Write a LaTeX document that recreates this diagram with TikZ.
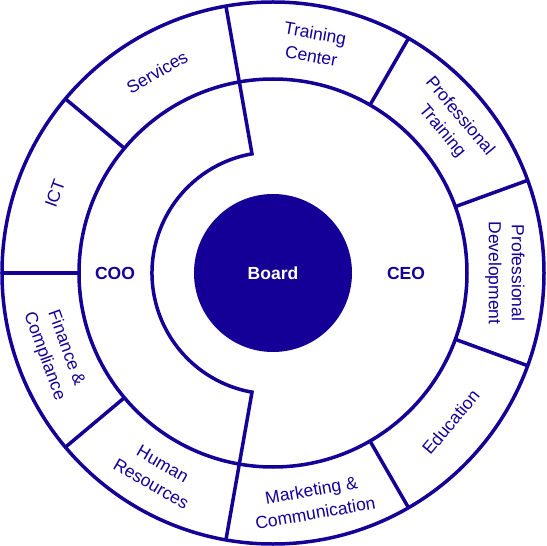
\documentclass[tikz,border=0pt]{standalone}
\usepackage{fontspec}
\setmainfont{Liberation Sans}
\definecolor{navy}{RGB}{20,0,150}
\tikzset{
    ring/.style={draw=navy, line width=3.5pt},
    unit/.style={text=navy, align=center, font=\fontsize{17.5}{23}\selectfont},
    head/.style={text=navy, font=\fontsize{17.5}{21}\selectfont\bfseries}
}
\begin{document}
\begin{tikzpicture}[x=1pt, y=1pt]
\useasboundingbox (-273,-273) rectangle (273,273);
% rings
\fill[navy] (0,0) circle (79);
\draw[ring] (0,0) circle (271);
\draw[ring] (0,0) circle (194);
% COO / CEO split
\draw[ring] (100:194) -- (100:121) arc (100:260:121) -- (260:194);
% outer dividers
\foreach \a in {20,60,...,340}
    \draw[ring] (\a:194) -- (\a:271);
% centre
\node[head, text=white] (board) at (0,0) {Board};
\node[head] (coo) at (-158,0) {COO};
\node[head] (ceo) at (133,0) {CEO};
% units, upper half
\foreach \a/\t [count=\i] in {0/Professional\\Development, 40/Professional\\Training,
        80/Training\\Center, 120/Services, 160/ICT}
    \node[unit, rotate=\a-90] (top\i) at (\a:232) {\t};
% units, lower half
\foreach \a/\t [count=\i] in {200/Finance \&\\Compliance, 240/Human\\Resources,
        280/Marketing \&\\Communication, 320/Education}
    \node[unit, rotate=\a+90] (bot\i) at (\a:232) {\t};
\end{tikzpicture}
\end{document}
